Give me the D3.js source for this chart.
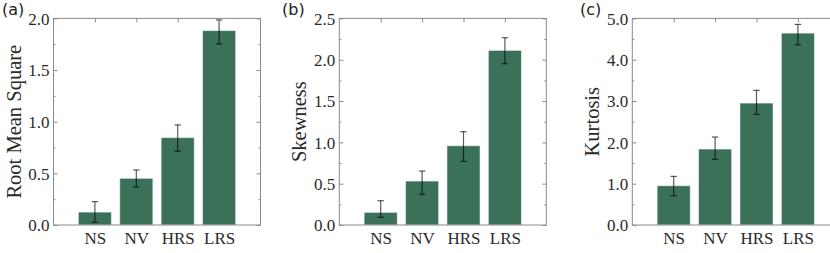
<!DOCTYPE html>
<html><head><meta charset="utf-8">
<script src="https://cdn.jsdelivr.net/npm/d3@7"></script>
<style>
body{margin:0;background:#fff;}
svg{display:block;}
.serif{font-family:"Liberation Serif","DejaVu Serif",serif;}
</style></head>
<body>
<svg id="chart" width="830" height="253"></svg>
<script>
const categories = ["NS","NV","HRS","LRS"];
const rmsValues  = [0.125, 0.452, 0.846, 1.882];
const rmsLow     = [0.026, 0.368, 0.714, 1.753];
const rmsHigh    = [0.226, 0.533, 0.969, 1.985];
const skewValues = [0.153, 0.532, 0.959, 2.113];
const skewLow    = [0.093, 0.371, 0.770, 1.951];
const skewHigh   = [0.294, 0.653, 1.129, 2.266];
const kurtValues = [0.951, 1.838, 2.951, 4.644];
const kurtLow    = [0.709, 1.589, 2.677, 4.360];
const kurtHigh   = [1.177, 2.129, 3.258, 4.855];
const rmsTicks  = [0, 0.5, 1.0, 1.5, 2.0];
const skewTicks = [0, 0.5, 1.0, 1.5, 2.0, 2.5];
const kurtTicks = [0, 1, 2, 3, 4, 5];
const panelLabels = ["(a)","(b)","(c)"];
const yLabels = ["Root Mean Square","Skewness","Kurtosis"];

const panels = [
  {values: rmsValues, low: rmsLow, high: rmsHigh, ticks: rmsTicks, ymax: 2.0, minorStep: 0.25, left: 53.5, labelX: 2, yTitle: yLabels[0], tag: panelLabels[0]},
  {values: skewValues, low: skewLow, high: skewHigh, ticks: skewTicks, ymax: 2.5, minorStep: 0.25, left: 339.3, labelX: 282, yTitle: yLabels[1], tag: panelLabels[1]},
  {values: kurtValues, low: kurtLow, high: kurtHigh, ticks: kurtTicks, ymax: 5.0, minorStep: 0.5, left: 632.3, labelX: 580, yTitle: yLabels[2], tag: panelLabels[2]}
];

const svg = d3.select("#chart");
const plotTop = 18.4, plotBottom = 225, W = 207;
const spineColor = "#8a8a8a";
const textColor = "#2a2a2a";
const barColor = "#3b7158";

panels.forEach(p => {
  const g = svg.append("g");
  const x = d3.scaleLinear().domain([-1, 4]).range([p.left, p.left + W]);
  const y = d3.scaleLinear().domain([0, p.ymax]).range([plotBottom, plotTop]);
  const minor = d3.range(p.minorStep, p.ymax, p.minorStep).filter(v => !p.ticks.some(t => Math.abs(t - v) < 1e-9));

  g.append("g").attr("transform", `translate(0,${plotBottom})`)
    .call(d3.axisBottom(x).tickValues([0,1,2,3]).tickSizeInner(-4).tickSizeOuter(0).tickFormat(""))
    .call(a => a.select(".domain").remove())
    .call(a => a.selectAll("line").attr("stroke", spineColor));

  g.selectAll("rect.bar").data(p.values).join("rect")
    .attr("class","bar")
    .attr("x", (d,i) => x(i - 0.4))
    .attr("width", x(0.8) - x(0))
    .attr("y", d => y(d))
    .attr("height", d => y(0) - y(d))
    .attr("fill", barColor)
    .attr("stroke", "rgba(255,255,255,0.55)")
    .attr("stroke-width", 1);

  const eb = g.append("g").attr("stroke", "#000").attr("stroke-opacity", 0.65).attr("stroke-width", 1.2);
  p.values.forEach((v, i) => {
    const cx = x(i);
    eb.append("line").attr("x1", cx).attr("x2", cx).attr("y1", y(p.low[i])).attr("y2", y(p.high[i]));
    eb.append("line").attr("x1", cx - 3.2).attr("x2", cx + 3.2).attr("y1", y(p.low[i])).attr("y2", y(p.low[i]));
    eb.append("line").attr("x1", cx - 3.2).attr("x2", cx + 3.2).attr("y1", y(p.high[i])).attr("y2", y(p.high[i]));
  });

  const la = g.append("g").attr("transform", `translate(${p.left},0)`)
    .call(d3.axisLeft(y).tickValues(p.ticks).tickSizeInner(-4).tickSizeOuter(0).tickPadding(4).tickFormat(d3.format(".1f")));
  la.select(".domain").remove();
  la.attr("font-family", null).attr("font-size", null);
  la.selectAll("line").attr("stroke", spineColor);
  la.selectAll("text").attr("class","serif").attr("fill", textColor).style("font-size", "17px").attr("dy","0.34em");
  g.append("g").attr("transform", `translate(${p.left},0)`)
    .call(d3.axisLeft(y).tickValues(minor).tickSizeInner(-2).tickSizeOuter(0).tickFormat(""))
    .call(a => a.select(".domain").remove())
    .call(a => a.selectAll("line").attr("stroke", spineColor));

  const rx = p.left + W;
  g.append("g").attr("transform", `translate(${rx},0)`)
    .call(d3.axisRight(y).tickValues(p.ticks).tickSizeInner(-4).tickSizeOuter(0).tickFormat(""))
    .call(a => a.select(".domain").remove())
    .call(a => a.selectAll("line").attr("stroke", spineColor));
  g.append("g").attr("transform", `translate(${rx},0)`)
    .call(d3.axisRight(y).tickValues(minor).tickSizeInner(-2).tickSizeOuter(0).tickFormat(""))
    .call(a => a.select(".domain").remove())
    .call(a => a.selectAll("line").attr("stroke", spineColor));

  g.append("g").attr("transform", `translate(0,${plotTop})`)
    .call(d3.axisTop(x).tickValues([0,1,2,3]).tickSizeInner(-4).tickSizeOuter(0).tickFormat(""))
    .call(a => a.select(".domain").remove())
    .call(a => a.selectAll("line").attr("stroke", spineColor));

  const ba = g.append("g").attr("transform", `translate(0,${plotBottom})`)
    .call(d3.axisBottom(x).tickValues([0,1,2,3]).tickSize(0).tickPadding(7).tickFormat(i => categories[i]));
  ba.select(".domain").remove();
  ba.attr("font-family", null).attr("font-size", null);
  ba.selectAll("text").attr("class","serif").attr("fill", textColor).style("font-size", "17px");

  g.append("rect").attr("x", p.left).attr("y", plotTop).attr("width", W).attr("height", plotBottom - plotTop)
    .attr("fill", "none").attr("stroke", spineColor).attr("stroke-width", 1);

  g.append("text").attr("class","serif")
    .attr("transform", `translate(${p.left - 40},${(plotTop + plotBottom) / 2}) rotate(-90)`)
    .attr("text-anchor", "middle").attr("dy", "0.35em")
    .style("font-size", "20.5px").attr("fill", textColor)
    .text(p.yTitle);

  g.append("text").attr("x", p.labelX).attr("y", 14.5)
    .style("font-family", "'DejaVu Sans', sans-serif").style("font-size", "16px").attr("fill", "#222")
    .text(p.tag);
});
</script>
</body></html>
